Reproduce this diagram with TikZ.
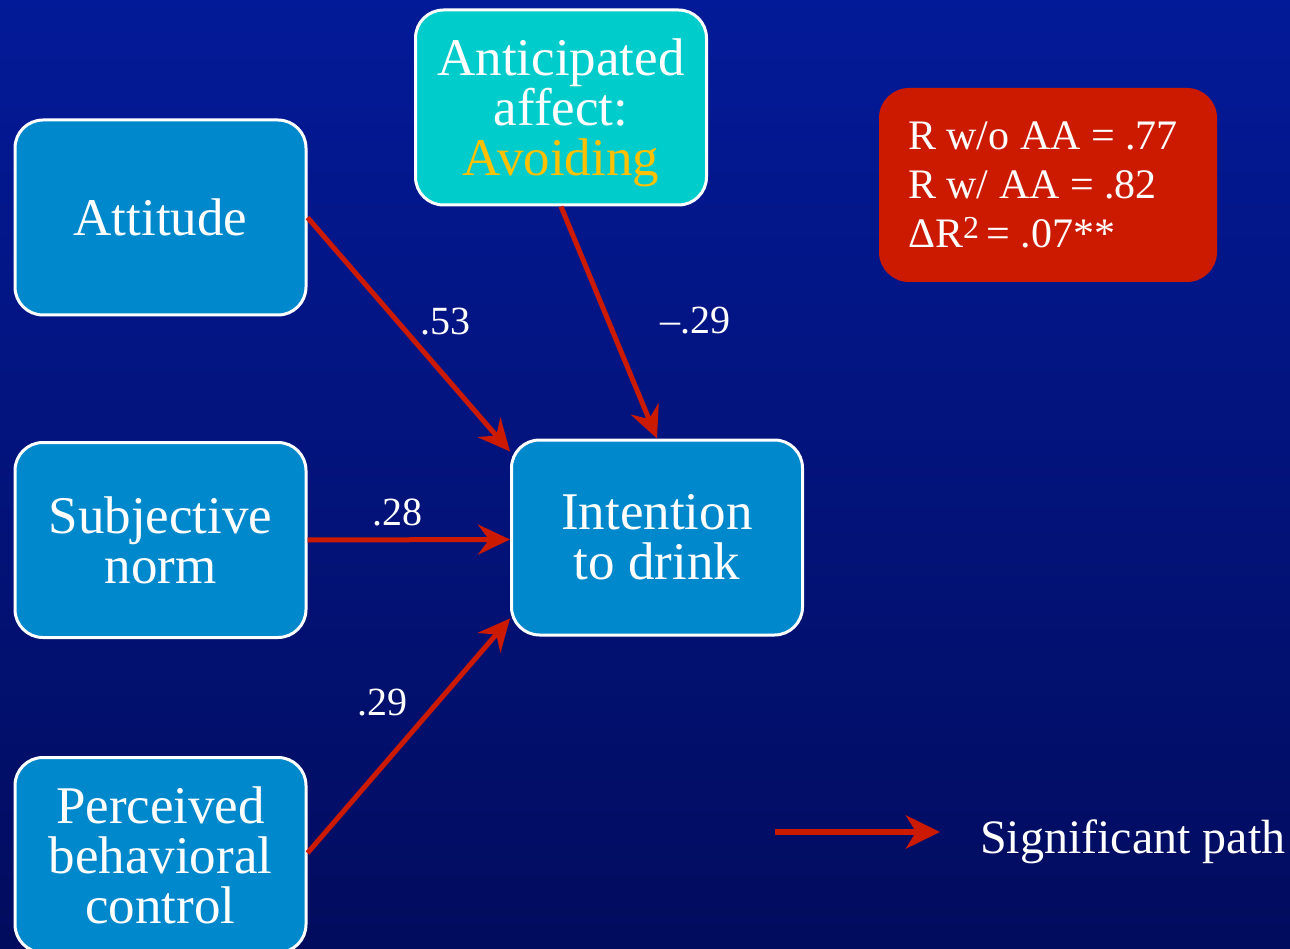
\documentclass[tikz,border=0pt]{standalone}
\usepackage{fontspec}
\setmainfont{Liberation Serif}
\usetikzlibrary{arrows.meta}
\definecolor{bgtop}{RGB}{3,26,152}
\definecolor{bgmid}{RGB}{1,17,118}
\definecolor{bgbot}{RGB}{2,12,94}
\definecolor{boxblue}{RGB}{0,136,204}
\definecolor{boxcyan}{RGB}{0,204,204}
\definecolor{avoidcol}{RGB}{255,192,0}
\definecolor{pathred}{RGB}{204,26,0}
\begin{document}
\begin{tikzpicture}[x=1pt,y=-1pt,
  varbox/.style={draw=white, line width=3pt, fill=boxblue, rounded corners=28pt,
    minimum width=291pt, minimum height=195pt, inner sep=0pt, text=white,
    align=center, font=\fontsize{53}{50}\selectfont},
  boxtext/.style={inner sep=0pt, text=white, align=center, font=\fontsize{53}{50}\selectfont},
  sigarrow/.style={draw=pathred, line width=5pt,
    -{Stealth[length=32pt,width=30pt,inset=11pt]}},
  coeff/.style={text=white, inner sep=0pt, font=\fontsize{40}{44}\selectfont}
]
\useasboundingbox (0,0) rectangle (1290,949);
\shade[top color=bgtop, middle color=bgmid, bottom color=bgbot] (0,0) rectangle (1290,949);

\node[varbox] (att) at (160.5,217.5) {Attitude};
\node[varbox] (sn)  at (160.5,540) {Subjective\\norm};
\node[varbox] (pbc) at (160.5,855) {Perceived\\behavioral\\control};
\node[varbox] (int) at (657,537.5) {Intention\\to drink};
\node[varbox, fill=boxcyan] (aa) at (561,107.5) {};
\node[boxtext] (aatext) at (561,112.5) {Anticipated\\affect:\\{\color{avoidcol}Avoiding}};

\node[fill=pathred, rounded corners=30pt, minimum width=338pt, minimum height=194pt,
  inner sep=0pt, text=white, align=left, font=\fontsize{42}{49}\selectfont] (stats) at (1048,185)
  {\parbox{280pt}{R w/o AA = .77\\R w/ AA = .82\\ΔR\textsuperscript{\fontsize{32}{32}\selectfont 2}\,= .07**}};

\draw[sigarrow] (att.east) -- ([yshift=-13pt]int.north west);
\draw[sigarrow] (aa.south) -- (int.north);
\draw[sigarrow] (sn.east) -- ([yshift=-2pt]int.west);
\draw[sigarrow] ([yshift=2pt]pbc.east) -- ([yshift=18pt]int.south west);

\node[coeff] (c53) at (445,322) {.53};
\node[coeff] (c29a) at (695,321) {–.29};
\node[coeff] (c28) at (397,512) {.28};
\node[coeff] (c29b) at (382,703) {.29};

\coordinate (l1) at (775,832);
\coordinate (l2) at (940,832);
\draw[sigarrow, line width=6.5pt, -{Stealth[length=34pt,width=33pt,inset=10pt]}] (l1) -- (l2);
\node[text=white, inner sep=0pt, anchor=base west, font=\fontsize{48}{52}\selectfont] (leg) at (980,853) {Significant path};
\end{tikzpicture}
\end{document}
